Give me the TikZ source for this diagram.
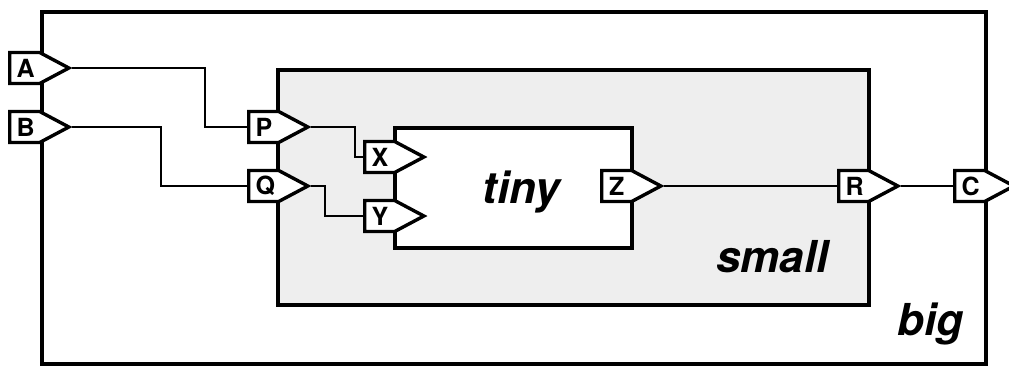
\documentclass[tikz,border=0pt]{standalone}
\usepackage{fontspec}
\setmainfont{TeX Gyre Heros}
\usetikzlibrary{shapes.symbols}
\definecolor{smallGray}{HTML}{EEEEEE}

\begin{document}
\begin{tikzpicture}[
  x=1pt, y=-1pt,
  %% Box styles
  box/.style={draw=black, line width=4pt, anchor=north west,
              inner sep=0pt},
  lbl/.style={font=\bfseries\itshape\fontsize{44}{44}\selectfont,
              inner sep=0pt},
  %% Port style
  port/.style={
    signal, signal to=east, signal pointer angle=56,
    draw=black, fill=white, line width=3.4pt,
    minimum height=31pt, inner ysep=0pt,
    text width=16pt, align=center, inner xsep=7pt,
    anchor=west,
    font=\bfseries\fontsize{25}{25}\selectfont
  },
  wire/.style={line width=2pt},
]
\useasboundingbox (0,0) rectangle (1009,365);

%% -- Boxes -------------------------------------------------------------
\node[box, fill=white, minimum width=944pt, minimum height=352pt]
  (big) at (40,10) {};
\node[box, fill=smallGray, minimum width=591pt, minimum height=235pt]
  (small) at (276,68) {};
\node[box, fill=white, minimum width=237pt, minimum height=120pt]
  (tiny) at (393,126) {};

\node[lbl, anchor=base] (tinylbl) at (521,203) {tiny};
\node[lbl, anchor=base east] (smalllbl) at (829,272) {small};
\node[lbl, anchor=base east] (biglbl) at (964,335) {big};

%% -- Ports -------------------------------------------------------------
\node[port] (A) at (8,68) {A};
\node[port] (B) at (8,127) {B};
\node[port] (P) at (247,127) {P};
\node[port] (Q) at (247,186) {Q};
\node[port] (X) at (363,157) {X};
\node[port] (Y) at (363,216) {Y};
\node[port] (Z) at (600,186) {Z};
\node[port] (R) at (837,186) {R};
\node[port] (C) at (953,186) {C};

%% -- Wires -------------------------------------------------------------
\begin{scope}[wire]
  \draw (A.east) -- ++(133,0) |- (P.west);
  \draw (B.east) -- ++(89,0)  |- (Q.west);
  \draw (P.east) -- ++(44,0)  |- (X.west);
  \draw (Q.east) -- ++(14,0)  |- (Y.west);
  \draw (Z.east) -- (R.west);
  \draw (R.east) -- (C.west);
\end{scope}

\end{tikzpicture}
\end{document}
